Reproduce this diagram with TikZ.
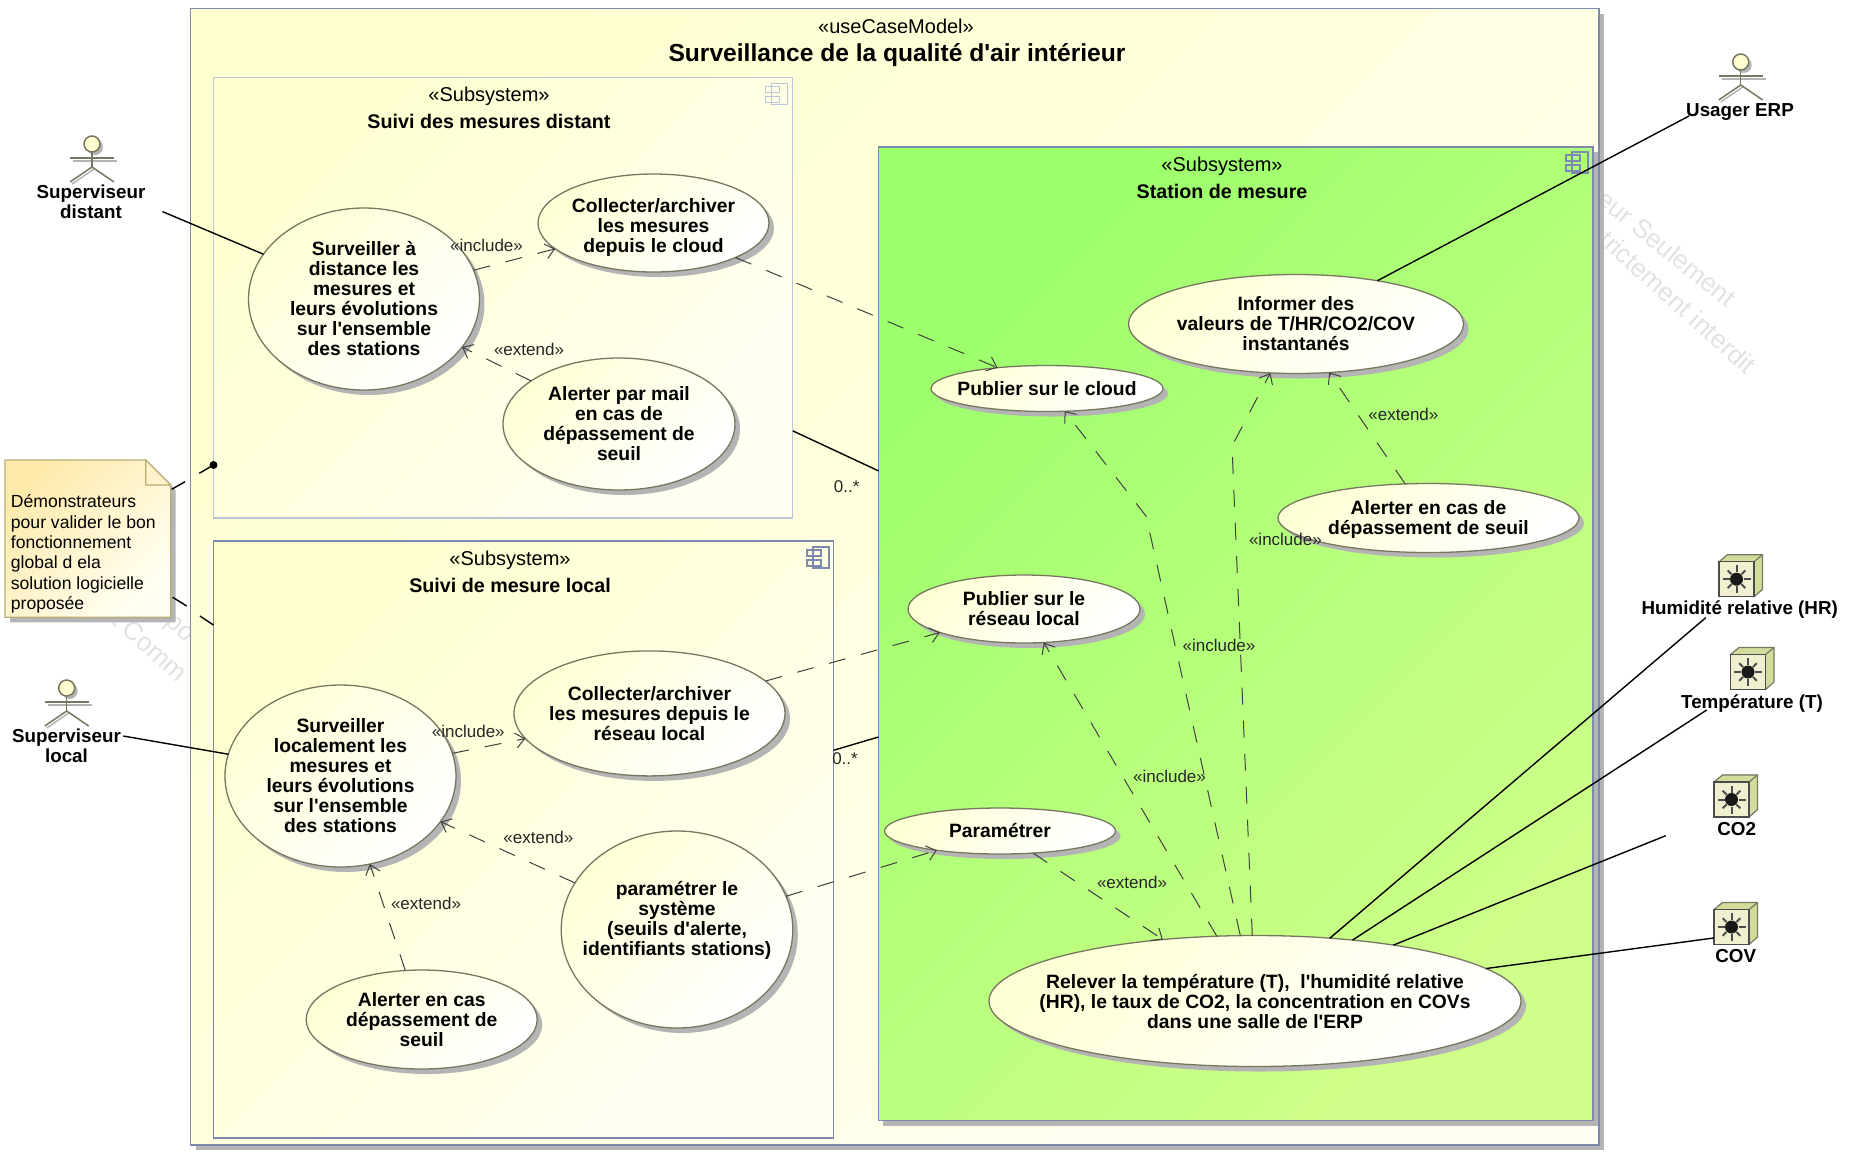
\documentclass[tikz,border=0pt]{standalone}
\usepackage{fontspec}
\setmainfont[Ligatures=TeXOff]{Liberation Sans}
\usepackage{xcolor}
\usepackage{tikz}
\usetikzlibrary{shapes.geometric,shadows,arrows.meta}
\definecolor{paleyellow}{HTML}{FFFFD0}
\definecolor{almostwhite}{HTML}{FFFFF2}
\definecolor{usecasefrom}{HTML}{FFFFD6}
\definecolor{stationfrom}{HTML}{9CFF6C}
\definecolor{stationto}{HTML}{CFFF8A}
\definecolor{frameblue}{HTML}{7D88AE}
\definecolor{framelight}{HTML}{BCC6D8}
\definecolor{shadowgrey}{HTML}{B4B4B4}
\definecolor{olive}{HTML}{777760}
\definecolor{noteline}{HTML}{B8AC74}
\definecolor{notefrom}{HTML}{FFEAAC}
\definecolor{watermark}{HTML}{E2E2E2}
\definecolor{sensorface}{HTML}{F0F0D0}
\definecolor{sensorside}{HTML}{D4DC9C}

\begin{document}
\begin{tikzpicture}[
x=1pt,y=-1pt,
diagfill/.style 2 args={
	bottom color=#1,
	top color=#2,
	shading angle=225
},
sysbox/.style={
	draw=frameblue,
	line width=1.3pt,
	inner sep=0pt,
	outer sep=0pt,
	diagfill={paleyellow}{almostwhite}
},
withshadow/.style={
	drop shadow={opacity=1,fill=shadowgrey,shadow xshift=5pt,shadow yshift=-5pt}
},
ucase/.style={
	ellipse,
	draw=olive,
	line width=1.3pt,
	inner sep=-60pt,
	outer sep=0pt,
	align=center,
	diagfill={usecasefrom}{white},
	withshadow,
	font=\bfseries\fontsize{19.3}{20}\selectfont
},
boldlbl/.style={
	align=center,
	inner sep=0pt,
	font=\bfseries\fontsize{18.8}{20}\selectfont
},
stereo/.style={
	inner sep=0pt,
	font=\fontsize{20}{22}\selectfont
},
subname/.style={
	inner sep=0pt,
	font=\bfseries\fontsize{19.7}{22}\selectfont
},
edgelbl/.style={
	inner sep=0pt,
	text=black!85,
	font=\fontsize{17}{20}\selectfont
},
wmark/.style={
	inner sep=0pt,
	text=watermark,
	font=\fontsize{26}{28}\selectfont
},
assoc/.style={
	draw=black,
	line width=1.4pt
},
dep/.style={
	draw=black!75,
	line width=1pt,
	dash pattern=on 17pt off 16pt,
	-{Straight Barb[length=9pt,width=15pt]}
},
compicon/.pic={
	\draw[pic actions] (0,0) rectangle (16,21);
	\draw[pic actions] (-6,3) rectangle (8,9);
	\draw[pic actions] (-6,13) rectangle (8,19);
},
actorfig/.pic={
	\fill[shadowgrey] (3,3) circle (8pt);
	\draw[shadowgrey,line width=1.5pt] (-19,17) -- (25,17);
	\draw[shadowgrey,line width=1.5pt] (-20,40) -- (2,25);
	\draw[olive,line width=1.5pt,fill=paleyellow] (0,0) circle (8pt);
	\draw[olive,line width=1.5pt] (0,8) -- (0,23);
	\draw[olive,line width=1.5pt] (-22,14) -- (22,14);
	\draw[olive,line width=1.5pt] (-22,38) -- (0,23) -- (22,38);
},
sensorbox/.pic={
	\fill[shadowgrey] (-17,-18) -- (-9,-25) -- (26,-25) -- (26,10) -- (17,18) -- cycle;
	\draw[olive,line width=1.2pt,fill=sensorside] (-17.5,-17.5) -- (-9,-24.5) -- (26,-24.5) -- (26,10) -- (17.5,17.5) -- cycle;
	\draw[olive,line width=1.2pt] (17.5,-17.5) -- (26,-24.5);
	\node[draw=black!70,line width=1.2pt,fill=sensorface,minimum size=35pt,inner sep=0pt,outer sep=0pt] (-front) at (0,0) {};
	\fill[black!90] (0,0) circle (6.5pt);
	\foreach \ang in {0,90,180,270}
		\draw[black!70,line width=2pt] (\ang:7pt) -- (\ang:14pt);
	\foreach \ang in {45,135,225,315}
		\draw[black!70,line width=2pt] (\ang:7pt) -- (\ang:12.5pt);
}
]
\useasboundingbox (0,0) rectangle (1854,1152);

\node[wmark,rotate=-39] (wm1) at (1667,248) {eur Seulement};
\node[wmark,rotate=-42] (wm2) at (1678,302) {trictement interdit};
\node[wmark,rotate=-42] (wm3) at (150,646) {t Comm};
\node[wmark,rotate=-42] (wm4) at (178,630) {po};

\node[sysbox,withshadow,minimum width=1408.4pt,minimum height=1136.5pt] (sys) at (894.8,576.8) {};
\node[sysbox,draw=framelight,minimum width=579.3pt,minimum height=440.3pt] (subDist) at (503.15,297.85) {};
\node[sysbox,minimum width=620pt,minimum height=597pt] (subLoc) at (523.5,839.5) {};
\node[sysbox,withshadow,diagfill={stationfrom}{stationto},minimum width=714.6pt,minimum height=973.7pt] (stat) at (1235.7,633.85) {};

\pic[draw=framelight,line width=1.3pt] (iconDist) at (771.5,83.4) {compicon};
\pic[draw=frameblue,line width=1.3pt] (iconLoc) at (813,547) {compicon};
\pic[draw=frameblue,line width=1.3pt] (iconStat) at (1572,152) {compicon};

\node[stereo] (tSys) at (896,26) {«useCaseModel»};
\node[inner sep=0pt,font=\bfseries\fontsize{24.6}{26}\selectfont] (nSys) at (897,55) {Surveillance de la qualité d'air intérieur};
\node[stereo] (tDist) at (489,96.7) {«Subsystem»};
\node[subname] (nDist) at (489,121.7) {Suivi des mesures distant};
\node[stereo] (tLoc) at (510,560) {«Subsystem»};
\node[subname] (nLoc) at (510,585.5) {Suivi de mesure local};
\node[stereo] (tStat) at (1222,166) {«Subsystem»};
\node[subname] (nStat) at (1222,191.4) {Station de mesure};

\node[ucase,minimum width=231pt,minimum height=182pt] (survD) at (364,299)
{Surveiller à\\distance les\\mesures et\\leurs évolutions\\sur l'ensemble\\des stations};
\node[ucase,minimum width=231pt,minimum height=98pt] (collD) at (653.5,223)
{\rule{0pt}{22pt}Collecter/archiver\\les mesures\\depuis le cloud};
\node[ucase,minimum width=232pt,minimum height=132pt] (alertD) at (619,424)
{Alerter par mail\\en cas de\\dépassement de\\seuil};
\node[ucase,minimum width=231pt,minimum height=182pt] (survL) at (340.5,776)
{Surveiller\\localement les\\mesures et\\leurs évolutions\\sur l'ensemble\\des stations};
\node[ucase,minimum width=271pt,minimum height=125pt] (collL) at (649.5,713.4)
{Collecter/archiver\\les mesures depuis le\\réseau local};
\node[ucase,minimum width=231.6pt,minimum height=197pt] (paramS) at (677,929.5)
{paramétrer le\\système\\(seuils d'alerte,\\identifiants stations)\\[3pt]~};
\node[ucase,minimum width=231pt,minimum height=99pt] (alertL) at (421.7,1019.5)
{Alerter en cas\\dépassement de\\seuil};
\node[ucase,minimum width=335pt,minimum height=99pt] (inform) at (1296,324)
{Informer des\\valeurs de T/HR/CO2/COV\\instantanés};
\node[ucase,minimum width=232pt,minimum height=46pt] (pubCloud) at (1047,388.5)
{Publier sur le cloud};
\node[ucase,minimum width=301pt,minimum height=69pt] (alertS) at (1428.5,518)
{\rule{0pt}{17pt}Alerter en cas de\\dépassement de seuil};
\node[ucase,minimum width=232pt,minimum height=68pt] (pubLoc) at (1024,609)
{Publier sur le\\réseau local};
\node[ucase,minimum width=231pt,minimum height=46pt] (param) at (1000,831)
{Paramétrer};
\node[ucase,minimum width=532pt,minimum height=131pt] (relever) at (1255,1001)
{Relever la température (T),~~l'humidité relative\\(HR), le taux de CO2, la concentration en COVs\\dans une salle de l'ERP};

\pic (actDist) at (92,144) {actorfig};
\pic (actLoc) at (66.7,688) {actorfig};
\pic (actErp) at (1740.7,62) {actorfig};
\node[boldlbl] (lblDist) at (91,201.5) {Superviseur\\distant};
\node[boldlbl] (lblLoc) at (66.5,746) {Superviseur\\local};
\node[boldlbl] (lblErp) at (1740,112) {Usager ERP};

\pic (sHR) at (1736.5,579.2) {sensorbox};
\pic (sT) at (1748,672) {sensorbox};
\pic (sCO) at (1731.5,799.5) {sensorbox};
\pic (sCOV) at (1731.5,927) {sensorbox};
\node[boldlbl] (lblHR) at (1739.7,610) {Humidité relative (HR)};
\node[boldlbl] (lblT) at (1752,703.5) {Température (T)};
\node[boldlbl] (lblCO) at (1736.7,829) {CO2};
\node[boldlbl] (lblCOV) at (1735.7,955.7) {COV};

\draw[noteline,line width=1.3pt,diagfill={notefrom}{almostwhite},drop shadow={opacity=1,fill=shadowgrey,shadow xshift=5pt,shadow yshift=-5pt}]
(5,460) -- (145.7,460) -- (170.7,485) -- (170.7,617.3) -- (5,617.3) -- cycle;
\draw[noteline,line width=1.3pt,fill=notefrom!60!white] (145.7,460) -- (145.7,485) -- (170.7,485) -- cycle;
\node[inner sep=0pt,align=left,anchor=north west,font=\fontsize{17.6}{20.4}\selectfont] (noteTxt) at (10.7,494.5)
{Démonstrateurs\\pour valider le bon\\fonctionnement\\global d ela\\solution logicielle\\proposée};

\coordinate (endDist) at (162.5,211.6);
\coordinate (endLoc) at (123.3,736);
\coordinate (endErp) at (1689,116);
\coordinate (endHR) at (1705.7,617.7);
\coordinate (endT) at (1706.7,710);
\coordinate (endCO) at (1665.7,835.7);
\coordinate (noteA) at (171.7,489.3);
\coordinate (noteB) at (185,481.7);
\coordinate (noteC) at (199.3,473.3);
\coordinate (noteD) at (213.5,465);
\coordinate (noteE) at (172.7,597.3);
\coordinate (noteF) at (186.7,606);
\coordinate (noteG) at (200,616);
\coordinate (noteH) at (213.5,625);
\coordinate (bendCloud) at (1146,516);
\coordinate (bendInform) at (1232,446);

\draw[assoc] (endDist) -- (survD.156);
\draw[assoc] (endLoc) -- (survL.169);
\draw[assoc] (endErp) -- (inform.28);
\draw[assoc] (endHR) -- (relever.40.3);
\draw[assoc] (endT) -- (relever.32.9);
\draw[assoc] (endCO) -- (relever.22.2);
\draw[assoc] (sCOV-front.212) -- (relever.8.1);
\draw[assoc] (subDist) -- (stat);
\draw[assoc] (subLoc) -- (stat);
\draw[assoc] (noteA) -- (noteB);
\draw[assoc] (noteC) -- (noteD);
\draw[assoc] (noteE) -- (noteF);
\draw[assoc] (noteG) -- (noteH);
\fill[black] (noteD) circle (4pt);

\draw[dep] (survD) -- (collD);
\draw[dep] (alertD) -- (survD);
\draw[dep] (collD) -- (pubCloud);
\draw[dep] (survL) -- (collL);
\draw[dep] (paramS) -- (survL);
\draw[dep] (alertL) -- (survL);
\draw[dep] (collL) -- (pubLoc);
\draw[dep] (paramS) -- (param);
\draw[dep] (param) -- (relever);
\draw[dep] (relever) -- (pubLoc);
\draw[dep] (relever) -- (bendCloud) -- (pubCloud);
\draw[dep] (relever) -- (bendInform) -- (inform);
\draw[dep] (alertS) -- (inform);

\node[edgelbl] (inc1) at (486.5,245) {«include»};
\node[edgelbl] (ext1) at (529,349) {«extend»};
\node[edgelbl] (mult1) at (846.7,486.8) {0..*};
\node[edgelbl] (inc2) at (468.3,731.7) {«include»};
\node[edgelbl] (ext2) at (538.4,837.3) {«extend»};
\node[edgelbl] (ext3) at (426,903.3) {«extend»};
\node[edgelbl] (mult2) at (845,759) {0..*};
\node[edgelbl] (inc3) at (1285.4,539.6) {«include»};
\node[edgelbl] (inc4) at (1219,645.4) {«include»};
\node[edgelbl] (inc5) at (1169.5,776.7) {«include»};
\node[edgelbl] (ext4) at (1132,882.3) {«extend»};
\node[edgelbl] (ext5) at (1403.4,414) {«extend»};

\end{tikzpicture}
\end{document}
